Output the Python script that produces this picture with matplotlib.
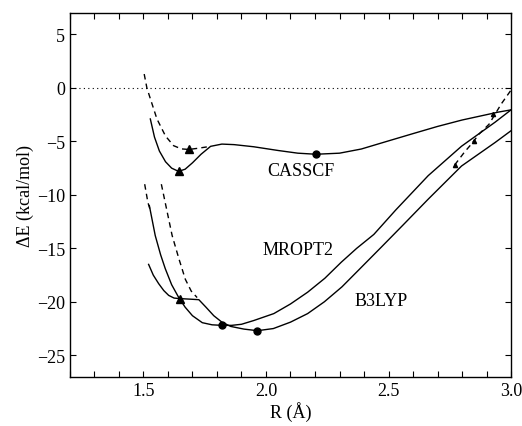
import matplotlib
matplotlib.use("Agg")
import matplotlib.pyplot as plt
from matplotlib.ticker import MultipleLocator

plt.rcParams['font.family'] = ['Liberation Serif', 'DejaVu Serif']
plt.rcParams['mathtext.fontset'] = 'stix'

# CASSCF solid
cas_x = [1.528, 1.545, 1.565, 1.59, 1.615, 1.643, 1.67, 1.70, 1.735, 1.774, 1.82, 1.87,
         1.95, 2.05, 2.13, 2.204, 2.30, 2.389, 2.50, 2.60, 2.70, 2.80, 2.90, 2.95, 3.0]
cas_y = [-2.9, -4.6, -5.9, -6.9, -7.5, -7.8, -7.6, -7.0, -6.2, -5.46, -5.25, -5.3,
         -5.5, -5.85, -6.1, -6.2, -6.1, -5.71, -4.95, -4.27, -3.6, -3.0, -2.5, -2.25, -2.05]
# CASSCF dashed
casd_x = [1.503, 1.514, 1.528, 1.555, 1.59, 1.623, 1.655, 1.685, 1.72, 1.774]
casd_y = [1.3, 0.0, -1.0, -2.9, -4.5, -5.4, -5.7, -5.75, -5.65, -5.46]

# MROPT2 solid
mr_x = [1.524, 1.548, 1.57, 1.589, 1.615, 1.644, 1.67, 1.70, 1.74, 1.78, 1.82, 1.86,
        1.90, 1.95, 2.032, 2.10, 2.17, 2.24, 2.307, 2.37, 2.44, 2.53, 2.662, 2.798,
        2.935, 3.0]
mr_y = [-11.0, -13.8, -15.6, -16.9, -18.4, -19.6, -20.5, -21.3, -21.95, -22.15, -22.2, -22.2,
        -22.1, -21.75, -21.1, -20.2, -19.1, -17.8, -16.3, -15.0, -13.7, -11.4, -8.2, -5.45,
        -3.2, -2.05]
# MROPT2 dashed
mrd_x = [1.505, 1.518, 1.526]
mrd_y = [-9.0, -10.7, -11.3]

# B3LYP solid
b3_x = [1.521, 1.54, 1.562, 1.583, 1.603, 1.625, 1.65, 1.69, 1.726, 1.755, 1.787, 1.82,
        1.856, 1.91, 1.965, 2.03, 2.10, 2.17, 2.238, 2.31, 2.375, 2.47, 2.56, 2.662,
        2.798, 2.935, 3.0]
b3_y = [-16.5, -17.5, -18.3, -18.95, -19.4, -19.65, -19.7, -19.75, -19.8, -20.5, -21.3, -21.9,
        -22.3, -22.55, -22.7, -22.5, -21.9, -21.1, -20.0, -18.6, -17.1, -14.9, -12.8, -10.4,
        -7.3, -5.1, -4.0]
# B3LYP dashed (left) and right-end dashed
b3d_x = [1.573, 1.595, 1.617, 1.645, 1.671, 1.695, 1.719]
b3d_y = [-9.0, -11.4, -13.8, -16.0, -17.9, -19.0, -19.6]
rd_x = [2.77, 2.81, 2.84, 2.87, 2.91, 2.96, 3.0]
rd_y = [-7.2, -6.0, -5.2, -4.3, -3.4, -1.5, -0.2]

# markers
tri_x = [1.643, 1.685, 1.65]
tri_y = [-7.8, -5.75, -19.7]
circ_x = [2.204, 1.82, 1.965]
circ_y = [-6.2, -22.2, -22.7]
stri_x = [2.77, 2.85, 2.925]
stri_y = [-7.2, -5.0, -2.4]

labels = ["CASSCF", "MROPT2", "B3LYP"]
label_x = [2.143, 2.13, 2.47]
label_y = [-7.7, -15.1, -19.9]

fig = plt.figure(figsize=(5.22, 4.27), dpi=100)
ax = fig.add_axes([0.134, 0.1155, 0.845, 0.8515])

lw = 1.0
ax.axhline(0, color='black', lw=0.8, ls=(0, (1, 3)))
ax.plot(cas_x, cas_y, 'k-', lw=lw)
ax.plot(casd_x, casd_y, 'k--', lw=lw, dashes=(4, 3))
ax.plot(mr_x, mr_y, 'k-', lw=lw)
ax.plot(mrd_x, mrd_y, 'k--', lw=lw, dashes=(4, 3))
ax.plot(b3_x, b3_y, 'k-', lw=lw)
ax.plot(b3d_x, b3d_y, 'k--', lw=lw, dashes=(4, 3))
ax.plot(rd_x, rd_y, 'k--', lw=lw, dashes=(4, 3))
ax.plot(tri_x, tri_y, 'k^', ms=6, ls='none')
ax.plot(circ_x, circ_y, 'ko', ms=5, ls='none')
ax.plot(stri_x, stri_y, 'k^', ms=3, ls='none')

for t, x, y in zip(labels, label_x, label_y):
    ax.text(x, y, t, fontsize=13, ha='center', va='center')

ax.set_xlim(1.2, 3.0)
ax.set_ylim(-27, 7)
ax.set_xticks([1.5, 2.0, 2.5, 3.0])
ax.set_xticklabels(["1.5", "2.0", "2.5", "3.0"])
ax.xaxis.set_minor_locator(MultipleLocator(0.1))
ax.set_yticks([5, 0, -5, -10, -15, -20, -25])
ax.set_yticklabels(["5", "0", "\u22125", "\u221210", "\u221215", "\u221220", "\u221225"])
ax.tick_params(which='both', direction='in', top=True, right=True, labelsize=13,
               length=4, width=0.8)
ax.tick_params(which='minor', length=4)
for s in ax.spines.values():
    s.set_linewidth(1.0)

ax.set_xlabel("R (\u00c5)", fontsize=13, labelpad=2)
ax.set_ylabel("\u0394E (kcal/mol)", fontsize=13, labelpad=2)

fig.savefig("out.png", dpi=100)
